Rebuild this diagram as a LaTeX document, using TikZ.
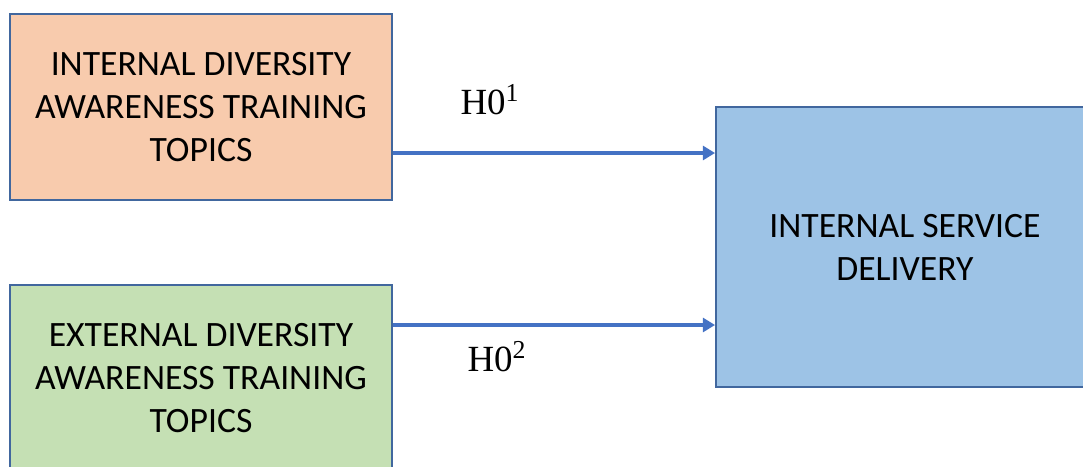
\documentclass[tikz,border=0pt]{standalone}
\usepackage{fontspec}
\setmainfont{Carlito}
\newfontfamily\hfont{Liberation Serif}
\usetikzlibrary{arrows.meta}
\definecolor{boxline}{HTML}{41679E}
\definecolor{arrowblue}{HTML}{4472C4}
\definecolor{orangefill}{HTML}{F8CBAD}
\definecolor{greenfill}{HTML}{C5E0B4}
\definecolor{bluefill}{HTML}{9DC3E6}
\tikzstyle{block}=[draw=boxline,line width=1.1pt,minimum width=7.64cm,minimum height=3.72cm,inner sep=0pt,align=center,font=\fontsize{20.3}{24.5}\selectfont]
\tikzstyle{link}=[draw=arrowblue,line width=2.2pt,-{Triangle[length=7pt,width=8pt]}]
\tikzstyle{hyp}=[font=\hfont\fontsize{21}{24}\selectfont,inner sep=0pt]

\begin{document}
\begin{tikzpicture}[x=0.02cm,y=-0.02cm]
\useasboundingbox (0,0) rectangle (1083,467);
\clip (0,0) rectangle (1083,467);
\node[block,fill=orangefill] at (201, 107) (internal) {INTERNAL DIVERSITY\\AWARENESS TRAINING\\TOPICS};
\node[block,fill=greenfill] at (201, 378) (external) {EXTERNAL DIVERSITY\\AWARENESS TRAINING\\TOPICS};
\node[block,fill=bluefill,minimum width=7.56cm,minimum height=5.6cm] at (905, 247) (delivery) {INTERNAL SERVICE\\DELIVERY};
\draw[link] (internal.east |- 0,153) -- (delivery.west |- 0,153);
\draw[link] (external.east |- 0,325) -- (delivery.west |- 0,325);
\node[hyp] at (490, 100) (h1) {H0\textsuperscript{1}};
\node[hyp] at (497, 357) (h2) {H0\textsuperscript{2}};
\end{tikzpicture}
\end{document}
